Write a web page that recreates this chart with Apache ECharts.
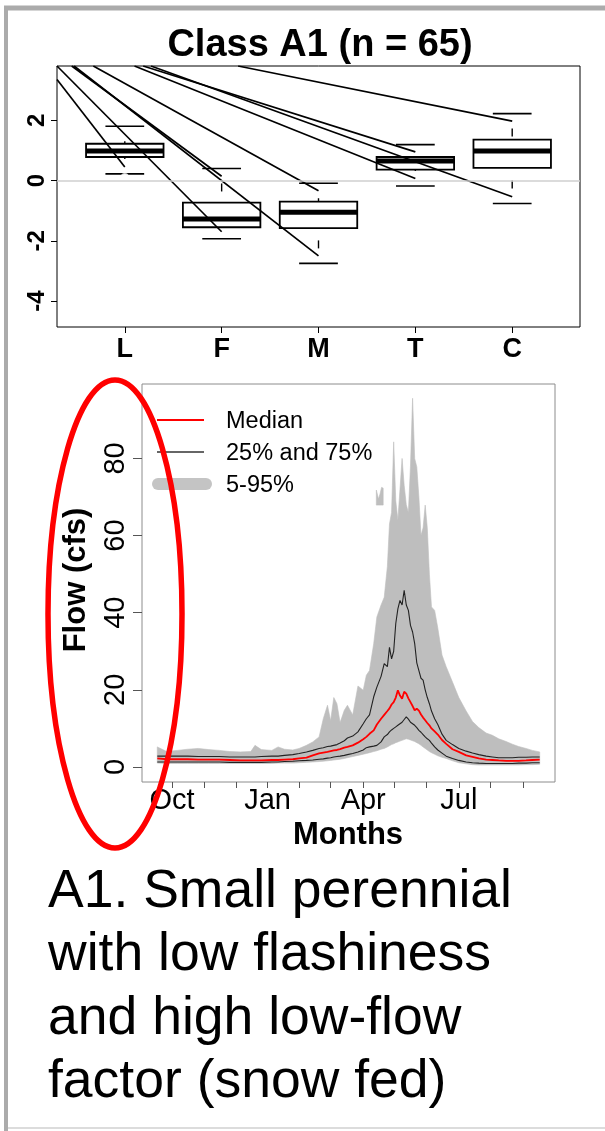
<!DOCTYPE html>
<html>
<head>
<meta charset="utf-8">
<script src="https://cdn.jsdelivr.net/npm/echarts@6/dist/echarts.min.js"></script>
<style>
  html, body { margin: 0; padding: 0; background: #fff; }
  #chart { width: 605px; height: 1131px; }
</style>
</head>
<body>
<div id="chart"></div>
<script>
// ---- top panel: boxplots of class metrics ----
const catLabels = ['L', 'F', 'M', 'T', 'C']
const catPos = [1, 2, 3, 4, 5]
const boxLow = [0.22, -1.93, -2.75, -0.18, -0.76]
const boxQ1 = [0.78, -1.55, -1.58, 0.36, 0.42]
const boxMed = [0.98, -1.28, -1.05, 0.65, 0.98]
const boxQ3 = [1.22, -0.73, -0.70, 0.78, 1.36]
const boxHigh = [1.80, 0.40, -0.09, 1.19, 2.22]
const outlierCat = [1, 1, 1, 1, 2, 2, 2, 5, 5]
const outlierVal = [3.01, 2.10, 0.12, -0.08, 1.86, 1.44, 0.76, -1.22, -2.60]
const topYTicks = [-4, -2, 0, 2]
// straight lines crossing the top panel (start on the frame, end near a box)
const segStartX = [0.3, 0.3, 0.452, 0.476, 0.675, 1.10, 1.19, 1.27, 2.17]
const segStartY = [3.35, 3.8, 3.8, 3.8, 3.8, 3.8, 3.8, 3.8, 3.8]
const segEndX = [1, 2, 2, 3, 3, 4, 4, 5, 5]
const segEndY = [0.45, -1.70, 0.14, -2.50, -0.34, 0.07, 0.95, -0.54, 1.97]

// ---- bottom panel: daily flow percentiles (water year) ----
const days = [1, 10, 20, 30, 40, 50, 60, 70, 80, 90,
  94, 100, 110, 116, 122, 130, 136, 143, 149, 155,
  159, 163, 166, 169, 172, 175, 179, 182, 187, 192,
  197, 200, 203, 207, 210, 214, 217, 220, 222, 224,
  226, 228, 230, 232, 234, 236, 238, 240, 242, 244,
  246, 248, 250, 252, 254, 256, 258, 260, 262, 265,
  268, 272, 276, 282, 288, 295, 301, 307, 314, 320,
  326, 333, 339, 345, 352, 358, 365]
const p95 = [5.2, 4.0, 4.3, 4.6, 4.8, 4.5, 4.3, 4.0, 3.9, 4.0,
  5.6, 4.5, 4.3, 5.2, 4.6, 4.4, 4.8, 5.6, 6.5, 7.8,
  12.5, 16.0, 12.0, 18.0, 16.4, 11.5, 14.7, 16.0, 13.5, 21.0,
  19.9, 23.8, 25.0, 32.0, 38.9, 42.0, 44.0, 52.0, 63.0, 66.0,
  84.3, 69.0, 64.0, 72.0, 80.0, 73.0, 68.0, 66.0, 78.0, 95.6,
  80.0, 77.8, 70.0, 60.0, 62.0, 67.9, 62.0, 50.0, 41.5, 40.6,
  36.0, 29.0, 26.0, 22.0, 18.0, 14.5, 11.8, 10.2, 8.8, 8.2,
  7.3, 6.6, 5.9, 5.3, 4.8, 4.3, 3.9]
const p75 = [2.8, 2.8, 2.8, 2.8, 2.7, 2.7, 2.7, 2.6, 2.6, 2.6,
  2.6, 2.7, 2.8, 2.8, 3.0, 3.2, 3.5, 3.9, 4.3, 4.8,
  5.0, 5.3, 5.4, 5.6, 5.8, 6.2, 6.8, 7.5, 8.0, 9.1,
  11.2, 12.5, 13.5, 18.2, 20.7, 23.5, 26.8, 26.0, 31.0, 28.0,
  30.0, 37.2, 41.0, 43.2, 42.0, 45.8, 42.0, 40.6, 36.7, 35.0,
  32.0, 27.0, 25.0, 23.0, 22.5, 20.0, 18.0, 16.4, 14.5, 12.5,
  11.0, 8.5, 6.9, 5.8, 4.8, 4.1, 3.6, 3.2, 2.8, 2.6,
  2.4, 2.4, 2.4, 2.5, 2.5, 2.6, 2.6]
const p50 = [2.2, 2.0, 2.0, 2.0, 1.9, 1.9, 1.9, 1.8, 1.7, 1.7,
  1.7, 1.7, 1.8, 1.8, 1.9, 2.0, 2.2, 2.4, 3.0, 3.5,
  3.7, 3.9, 4.1, 4.3, 4.4, 4.6, 5.0, 5.2, 5.6, 6.3,
  7.2, 7.8, 8.6, 9.5, 11.0, 12.5, 13.5, 14.5, 15.2, 16.2,
  16.8, 18.0, 19.9, 18.5, 17.7, 19.5, 19.0, 17.8, 16.8, 15.8,
  14.7, 15.1, 14.6, 13.6, 12.8, 12.1, 11.4, 10.8, 10.0, 9.2,
  8.4, 7.0, 6.0, 4.6, 3.9, 3.0, 2.6, 2.2, 1.9, 1.8,
  1.7, 1.6, 1.6, 1.6, 1.7, 1.8, 1.9]
const p25 = [1.3, 1.3, 1.3, 1.3, 1.3, 1.3, 1.3, 1.2, 1.2, 1.2,
  1.2, 1.2, 1.3, 1.3, 1.4, 1.5, 1.6, 1.7, 1.8, 2.0,
  2.1, 2.3, 2.4, 2.6, 2.7, 2.8, 3.0, 3.2, 3.5, 3.9,
  4.4, 5.0, 5.2, 5.4, 5.6, 6.5, 7.8, 8.4, 9.1, 9.6,
  10.0, 10.4, 10.8, 11.2, 11.6, 12.3, 13.0, 12.4, 11.6, 11.2,
  10.8, 10.2, 9.5, 9.0, 8.4, 7.8, 7.3, 6.9, 6.2, 5.2,
  4.4, 3.6, 2.8, 2.2, 1.7, 1.3, 1.1, 1.0, 0.9, 0.9,
  0.9, 0.9, 0.9, 1.0, 1.0, 1.1, 1.1]
const p5 = [1.0, 0.9, 0.9, 0.9, 0.9, 0.9, 0.9, 0.9, 0.9, 0.9,
  0.9, 0.9, 0.9, 1.0, 1.0, 1.0, 1.1, 1.2, 1.3, 1.4,
  1.5, 1.6, 1.7, 1.8, 1.9, 2.0, 2.2, 2.4, 2.7, 3.0,
  3.3, 3.5, 3.7, 4.0, 4.2, 4.6, 4.8, 5.2, 5.5, 5.8,
  6.0, 6.3, 6.5, 6.7, 6.9, 7.1, 7.3, 7.2, 7.0, 6.8,
  6.6, 6.3, 6.0, 5.6, 5.2, 4.8, 4.4, 4.0, 3.7, 3.3,
  2.9, 2.5, 2.2, 1.6, 1.1, 0.8, 0.6, 0.5, 0.5, 0.5,
  0.5, 0.5, 0.5, 0.5, 0.6, 0.6, 0.7]
// small detached piece of the 5-95% band
const patchDays = [209.5, 211.5, 213, 214.5, 216]
const patchHigh = [71.8, 69.5, 70.8, 72.5, 72.3]
const patchLow = [67.9, 67.9, 67.9, 67.9, 67.9]
const monthTicks = [15, 46, 76, 106, 136, 166, 197, 227, 257, 288, 318, 349]
const monthLabelDays = [15, 106, 197, 288]
const monthLabels = ['Oct', 'Jan', 'Apr', 'Jul']
const flowTicks = [0, 20, 40, 60, 80]

const FONT = '"Liberation Sans", Arial, sans-serif'
const chart = echarts.init(document.getElementById('chart'))

function bandPolygon(xs, hi, lo, color) {
  return function (params, api) {
    if (params.dataIndex !== 0) return
    const pts = []
    for (let i = 0; i < xs.length; i++) pts.push(api.coord([xs[i], hi[i]]))
    for (let i = xs.length - 1; i >= 0; i--) pts.push(api.coord([xs[i], lo[i]]))
    return { type: 'polygon', shape: { points: pts }, style: { fill: color, stroke: color, lineWidth: 0.6 } }
  }
}

function renderBox(params, api) {
  const i = params.dataIndex
  const x = catPos[i]
  const hw = 0.4
  const cw = 0.2
  const a = api.coord([x - hw, boxQ3[i]])
  const b = api.coord([x + hw, boxQ1[i]])
  const mL = api.coord([x - hw, boxMed[i]])
  const mR = api.coord([x + hw, boxMed[i]])
  const hiL = api.coord([x - cw, boxHigh[i]])
  const hiR = api.coord([x + cw, boxHigh[i]])
  const loL = api.coord([x - cw, boxLow[i]])
  const loR = api.coord([x + cw, boxLow[i]])
  const c = api.coord([x, 0])[0]
  // whiskers are dashed; only one dash shows, a little way in from the staple
  const dash = { stroke: '#000', lineWidth: 1.4, lineDash: [8, 400], lineDashOffset: 393 }
  return {
    type: 'group',
    children: [
      { type: 'line', shape: { x1: c, y1: hiL[1], x2: c, y2: a[1] }, style: dash },
      { type: 'line', shape: { x1: c, y1: loL[1], x2: c, y2: b[1] }, style: dash },
      { type: 'line', shape: { x1: hiL[0], y1: hiL[1], x2: hiR[0], y2: hiR[1] }, style: { stroke: '#000', lineWidth: 1.6 } },
      { type: 'line', shape: { x1: loL[0], y1: loL[1], x2: loR[0], y2: loR[1] }, style: { stroke: '#000', lineWidth: 1.6 } },
      { type: 'rect', shape: { x: a[0], y: a[1], width: b[0] - a[0], height: b[1] - a[1] }, style: { fill: 'rgba(0,0,0,0)', stroke: '#000', lineWidth: 1.8 } },
      { type: 'line', shape: { x1: mL[0], y1: mL[1], x2: mR[0], y2: mR[1] }, style: { stroke: '#000', lineWidth: 5 } }
    ]
  }
}

const segSeries = segStartX.map((sx, i) => ({
  type: 'line',
  xAxisIndex: 0,
  yAxisIndex: 0,
  data: [[sx, segStartY[i]], [segEndX[i], segEndY[i]]],
  symbol: 'none',
  clip: true,
  lineStyle: { color: '#000', width: 1.7 },
  z: 4
}))

const option = {
  animation: false,
  backgroundColor: '#fff',
  grid: [
    { left: 57, top: 66, width: 523, height: 261, show: true, borderColor: '#000', borderWidth: 1, backgroundColor: 'transparent' },
    { left: 142, top: 384, width: 413, height: 398, show: true, borderColor: '#8c8c8c', borderWidth: 1, backgroundColor: 'transparent' }
  ],
  xAxis: [
    {
      type: 'value', gridIndex: 0, min: 0.3, max: 5.7, position: 'bottom',
      axisLine: { show: false, onZero: false },
      splitLine: { show: false },
      axisTick: { show: true, customValues: catPos, length: 6, lineStyle: { color: '#000', width: 1 } },
      axisLabel: {
        customValues: catPos,
        formatter: v => catLabels[Math.round(v) - 1],
        fontSize: 27, fontWeight: 'bold', color: '#000', fontFamily: FONT, margin: 9
      }
    },
    {
      type: 'value', gridIndex: 1, min: -13.56, max: 379.56, position: 'bottom',
      axisLine: { show: false, onZero: false },
      splitLine: { show: false },
      axisTick: { show: true, customValues: monthTicks, length: 6, lineStyle: { color: '#555', width: 1 } },
      axisLabel: {
        customValues: monthLabelDays,
        formatter: v => monthLabels[monthLabelDays.indexOf(v)],
        fontSize: 29, color: '#000', fontFamily: FONT, margin: 4
      }
    }
  ],
  yAxis: [
    {
      type: 'value', gridIndex: 0, min: -4.86, max: 3.8, position: 'left',
      axisLine: { show: false, onZero: false },
      splitLine: { show: false },
      axisTick: { show: true, customValues: topYTicks, length: 6, lineStyle: { color: '#000', width: 1 } },
      axisLabel: {
        customValues: topYTicks, rotate: 90,
        fontSize: 24, fontWeight: 'bold', color: '#000', fontFamily: FONT, margin: 8
      }
    },
    {
      type: 'value', gridIndex: 1, min: -3.9, max: 99.3, position: 'left',
      axisLine: { show: false, onZero: false },
      splitLine: { show: false },
      axisTick: { show: true, customValues: flowTicks, length: 9, lineStyle: { color: '#555', width: 1 } },
      axisLabel: {
        customValues: flowTicks, rotate: 90,
        fontSize: 29, color: '#000', fontFamily: FONT, margin: 12
      }
    }
  ],
  series: [
    {
      type: 'line', xAxisIndex: 0, yAxisIndex: 0, data: [], z: 1,
      markLine: {
        silent: true, symbol: 'none', label: { show: false },
        lineStyle: { color: '#cfcfcf', width: 1.5, type: 'solid' },
        data: [{ yAxis: 0 }]
      }
    },
    {
      type: 'custom', xAxisIndex: 0, yAxisIndex: 0,
      data: catPos.map((x, i) => [x, boxMed[i]]),
      renderItem: renderBox, z: 3
    },
    {
      type: 'scatter', xAxisIndex: 0, yAxisIndex: 0,
      data: outlierCat.map((c, i) => [c, outlierVal[i]]),
      symbol: 'emptyCircle', symbolSize: 6,
      itemStyle: { color: '#fff', borderColor: '#000', borderWidth: 1.5 }, z: 3
    },
    ...segSeries,
    {
      type: 'custom', xAxisIndex: 1, yAxisIndex: 1,
      data: [[days[0], p5[0]]],
      renderItem: bandPolygon(days, p95, p5, '#bebebe'), z: 2
    },
    {
      type: 'custom', xAxisIndex: 1, yAxisIndex: 1,
      data: [[patchDays[0], patchLow[0]]],
      renderItem: bandPolygon(patchDays, patchHigh, patchLow, '#bebebe'), z: 2
    },
    {
      type: 'line', xAxisIndex: 1, yAxisIndex: 1, symbol: 'none',
      data: days.map((d, i) => [d, p75[i]]),
      lineStyle: { color: '#222', width: 1.1 }, z: 3
    },
    {
      type: 'line', xAxisIndex: 1, yAxisIndex: 1, symbol: 'none',
      data: days.map((d, i) => [d, p25[i]]),
      lineStyle: { color: '#222', width: 1.1 }, z: 3
    },
    {
      type: 'line', xAxisIndex: 1, yAxisIndex: 1, symbol: 'none',
      data: days.map((d, i) => [d, p50[i]]),
      lineStyle: { color: '#ff0000', width: 1.8 }, z: 4
    }
  ],
  graphic: [
    // slide frame
    { type: 'line', shape: { x1: 6, y1: 6, x2: 6, y2: 1131 }, style: { stroke: '#ababab', lineWidth: 4 }, z: 50 },
    { type: 'line', shape: { x1: 4, y1: 8, x2: 605, y2: 8 }, style: { stroke: '#ababab', lineWidth: 5 }, z: 50 },
    { type: 'line', shape: { x1: 8, y1: 1128, x2: 605, y2: 1128 }, style: { stroke: '#dcdcdc', lineWidth: 2 }, z: 50 },
    // titles and axis names
    { type: 'text', x: 320, y: 46, style: { text: 'Class A1 (n = 65)', fontSize: 38, fontWeight: 'bold', fontFamily: FONT, fill: '#000', align: 'center', verticalAlign: 'middle' }, z: 50 },
    { type: 'text', x: 76, y: 580, rotation: Math.PI / 2, style: { text: 'Flow (cfs)', fontSize: 31, fontWeight: 'bold', fontFamily: FONT, fill: '#000', align: 'center', verticalAlign: 'middle' }, z: 50 },
    { type: 'text', x: 348, y: 835, style: { text: 'Months', fontSize: 31, fontWeight: 'bold', fontFamily: FONT, fill: '#000', align: 'center', verticalAlign: 'middle' }, z: 50 },
    // legend of the flow panel
    { type: 'line', shape: { x1: 157, y1: 420, x2: 204, y2: 420 }, style: { stroke: '#ff0000', lineWidth: 2 }, z: 50 },
    { type: 'line', shape: { x1: 157, y1: 452, x2: 204, y2: 452 }, style: { stroke: '#333', lineWidth: 1.3 }, z: 50 },
    { type: 'line', shape: { x1: 158, y1: 484, x2: 206, y2: 484 }, style: { stroke: '#c4c4c4', lineWidth: 12, lineCap: 'round' }, z: 50 },
    { type: 'text', x: 226, y: 422, style: { text: 'Median', fontSize: 23.5, fontFamily: FONT, fill: '#000', verticalAlign: 'middle' }, z: 50 },
    { type: 'text', x: 226, y: 454, style: { text: '25% and 75%', fontSize: 23.5, fontFamily: FONT, fill: '#000', verticalAlign: 'middle' }, z: 50 },
    { type: 'text', x: 226, y: 486, style: { text: '5-95%', fontSize: 23.5, fontFamily: FONT, fill: '#000', verticalAlign: 'middle' }, z: 50 },
    // red highlight ellipse
    { type: 'ellipse', shape: { cx: 115, cy: 614, rx: 67, ry: 234 }, style: { fill: 'none', stroke: '#ff0000', lineWidth: 5.5 }, z: 60 },
    // caption
    { type: 'text', x: 48, y: 892, style: { text: 'A1. Small perennial', fontSize: 53.5, fontFamily: FONT, fill: '#000', verticalAlign: 'middle' }, z: 50 },
    { type: 'text', x: 48, y: 955, style: { text: 'with low flashiness', fontSize: 53.5, fontFamily: FONT, fill: '#000', verticalAlign: 'middle' }, z: 50 },
    { type: 'text', x: 48, y: 1019, style: { text: 'and high low-flow', fontSize: 53.5, fontFamily: FONT, fill: '#000', verticalAlign: 'middle' }, z: 50 },
    { type: 'text', x: 48, y: 1082, style: { text: 'factor (snow fed)', fontSize: 53.5, fontFamily: FONT, fill: '#000', verticalAlign: 'middle' }, z: 50 }
  ]
}
chart.setOption(option)
</script>
</body>
</html>
